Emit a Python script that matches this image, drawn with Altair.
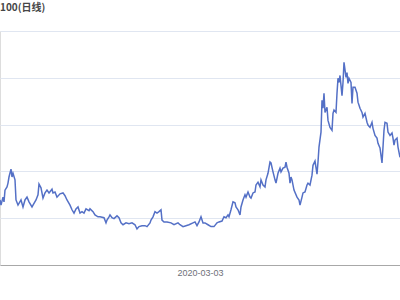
import altair as alt
import pandas as pd

title_text = "100(日线)"
base_date = "2020-03-03"
tick_label_dates = ["2020-03-03"]
y_ticks = [2000, 3000, 4000, 5000, 6000, 7000]

# calendar-day offsets from 2020-03-03
day_offsets = [
    -400, -398, -394, -392, -390, -386, -384, -382, -378, -376, -374, -370, -368, -364,
    -358, -354, -350, -346, -342, -336, -334, -328, -324, -322, -318, -314, -310, -306,
    -302, -296, -294, -290, -286, -280, -274, -270, -266, -260, -256, -252, -248, -244,
    -240, -236, -232, -228, -222, -220, -214, -210, -204, -200, -192, -188, -186, -182,
    -180, -176, -172, -166, -162, -158, -154, -148, -142, -136, -130, -126, -122, -116,
    -110, -106, -100, -98, -94, -90, -86, -82, -78, -76, -72, -66, -58, -52, -44, -40,
    -34, -28, -22, -14, -10, -6, -2, 2, 6, 10, 16, 22, 28, 34, 38, 44, 48, 52, 56, 58,
    62, 66, 70, 72, 76, 80, 82, 86, 90, 92, 96, 100, 102, 106, 110, 112, 116, 120, 122,
    126, 130, 132, 136, 140, 142, 146, 150, 152, 156, 160, 162, 166, 170, 172, 174, 178,
    180, 182, 184, 188, 194, 198, 200, 204, 206, 210, 214, 216, 220, 224, 226, 230, 234,
    236, 238, 242, 244, 246, 248, 250, 254, 256, 260, 264, 266, 268, 272, 274, 276, 278,
    280, 284, 286, 288, 292, 294, 296, 298, 302, 304, 306, 310, 314, 316, 320, 324, 326,
    330, 334, 336, 340, 344, 346, 350, 354, 356, 360, 364, 366, 368, 370, 374, 376, 380,
    384, 386, 388, 390, 394, 396, 400,
]

close_values = [
    3390, 3280, 3450, 3350, 3600, 3670, 3750, 3880, 4050, 3880, 3960, 3820, 3390, 3280,
    3390, 3240, 3390, 3450, 3350, 3240, 3280, 3390, 3500, 3730, 3650, 3430, 3540, 3600,
    3540, 3620, 3540, 3560, 3450, 3520, 3540, 3480, 3390, 3280, 3180, 3110, 3200, 3240,
    3110, 3140, 3110, 3200, 3160, 3200, 3140, 3070, 3030, 3030, 3010, 2900, 2960, 3030,
    3070, 3010, 2990, 3050, 3010, 2900, 2860, 2900, 2880, 2900, 2860, 2770, 2820, 2840,
    2840, 2820, 2900, 2960, 3030, 3140, 3110, 3140, 3180, 2960, 2920, 2920, 2900, 2860, 2900, 2860,
    2820, 2840, 2860, 2900, 2920, 2840, 2920, 3030, 2900, 2900, 2860, 2820, 2820, 2900, 2920, 2940, 3030, 3010, 3070, 3030,
    3180, 3350, 3330, 3240, 3180, 3070, 3240, 3390, 3500, 3450, 3560, 3450, 3430, 3540, 3560, 3710, 3770, 3670, 3820,
    3710, 3670, 3820, 3960, 4200, 4180, 3990, 3820, 3750, 3960, 4070, 3990, 4070, 4090, 4200, 4090, 3960,
    3750, 3880, 3820, 3600, 3450, 3390, 3280, 3450, 3540, 3560, 3710, 3750, 3710, 3920, 4130, 4220, 3940,
    4200, 4520, 4840, 5520, 5350, 5670, 5260, 5370, 5090, 4940, 4880, 5240, 5310, 5260, 5670, 5990, 5900,
    6050, 5620, 5900, 6330, 6010, 6110, 5880, 5990, 5900, 5450, 5800, 5800, 5670, 5480, 5350, 5260, 5160,
    5240, 5050, 4990, 4940, 5050, 4920, 4770, 4710, 4600, 4500, 4180, 4520, 4880, 5050, 5030, 4840, 4770,
    4820, 4710, 4560, 4670, 4710, 4520, 4300,
]

base = pd.Timestamp(base_date)
df = pd.DataFrame({
    "date": [base + pd.Timedelta(days=d) for d in day_offsets],
    "close": close_values,
})

start = base + pd.Timedelta(days=min(day_offsets))
end = base + pd.Timedelta(days=max(day_offsets))

tick_dts = [
    alt.DateTime(year=pd.Timestamp(t).year, month=pd.Timestamp(t).month, date=pd.Timestamp(t).day)
    for t in tick_label_dates
]

line = alt.Chart(df).mark_line(
    color="#5470c6", strokeWidth=1.5, clip=True, interpolate="linear"
).encode(
    x=alt.X(
        "date:T",
        scale=alt.Scale(
            domain=[
                alt.DateTime(year=start.year, month=start.month, date=start.day),
                alt.DateTime(year=end.year, month=end.month, date=end.day),
            ]
        ),
        axis=alt.Axis(
            title=None,
            values=tick_dts,
            format="%Y-%m-%d",
            grid=False,
            ticks=False,
            domainColor="#a8a8a8",
            domainWidth=1,
            labelColor="#6e7079",
            labelFontSize=9,
            labelFont="Liberation Sans",
            labelPadding=3,
        ),
    ),
    y=alt.Y(
        "close:Q",
        scale=alt.Scale(domain=[y_ticks[0], y_ticks[-1]], nice=False, zero=False),
        axis=alt.Axis(
            title=None,
            values=y_ticks,
            labels=False,
            ticks=False,
            domain=False,
            grid=True,
            gridColor="#E0E6F1",
            gridWidth=1,
        ),
    ),
)

chart = line.properties(
    width=400,
    height=234,
    autosize=alt.AutoSizeParams(type="none"),
    padding={"left": 0, "top": 31, "right": 0, "bottom": 35},
    title=alt.TitleParams(
        text=title_text,
        anchor="start",
        frame="group",
        fontSize=10,
        fontWeight="bold",
        font="Noto Sans CJK SC",
        color="#464646",
        baseline="bottom",
        offset=8,
    ),
).configure_view(stroke=None).configure(background="white")

chart.save("out.html", embed_options={"renderer": "svg", "actions": False})
